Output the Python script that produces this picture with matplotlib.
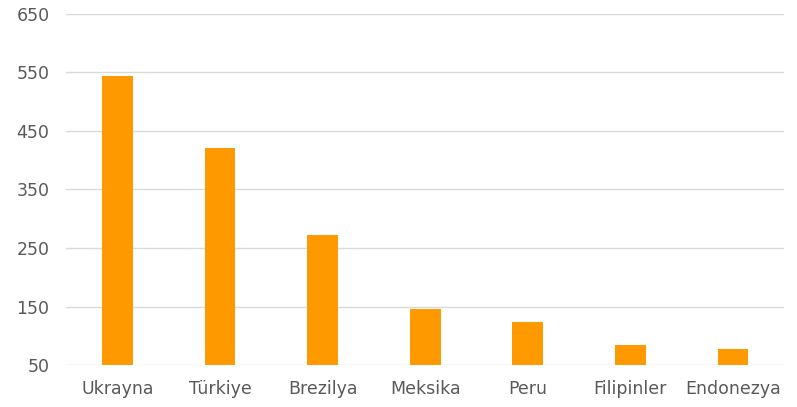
import matplotlib.pyplot as plt
import numpy as np

# veri
ulkeler = ["Ukrayna", "Türkiye", "Brezilya", "Meksika", "Peru", "Filipinler", "Endonezya"]
degerler = [543, 420, 273, 145, 123, 85, 77]
y_ticks = [50, 150, 250, 350, 450, 550, 650]

plt.rcParams["font.family"] = ["DejaVu Sans"]

fig = plt.figure(figsize=(7.97, 4.07), dpi=100)
ax = fig.add_axes([0.083, 0.103, 0.901, 0.863])

x = np.arange(len(ulkeler))
ax.bar(x, np.array(degerler) - 50, bottom=50, width=0.30, color="#FF9900", zorder=3)

ax.set_xlim(-0.5, len(ulkeler) - 0.5)
ax.set_ylim(50, 650)
ax.set_yticks(y_ticks)
ax.set_xticks(x)
ax.set_xticklabels(ulkeler)
ax.grid(axis="y", color="#D9D9D9", linewidth=1, zorder=0)
for s in ax.spines.values():
    s.set_visible(False)
ax.tick_params(length=0, colors="#595959", labelsize=12.5)
ax.tick_params(axis="y", pad=12)
ax.tick_params(axis="x", pad=11)

fig.savefig("out.png", dpi=100)
